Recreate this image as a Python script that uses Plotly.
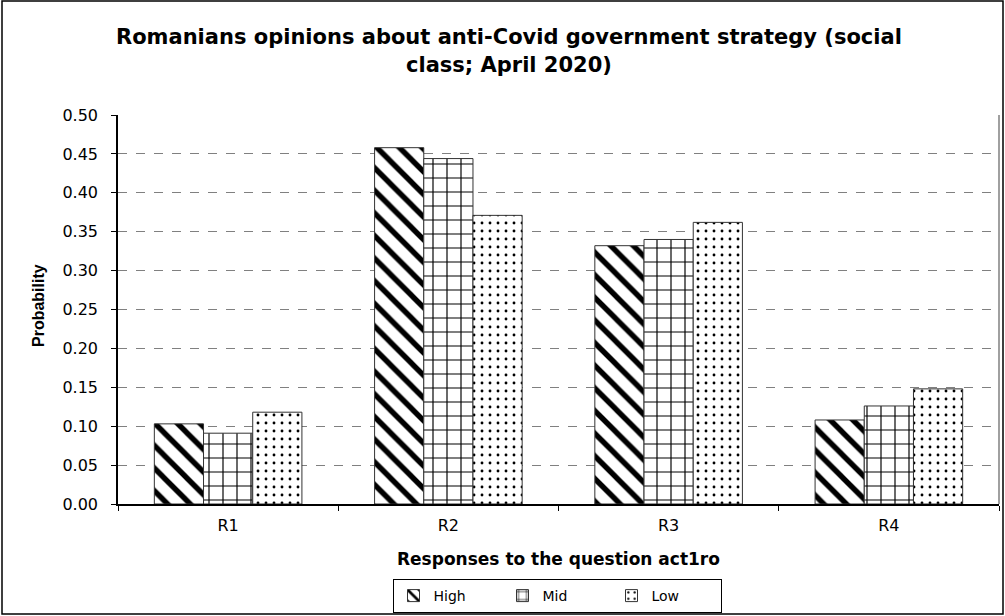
import plotly.graph_objects as go

# Response categories and predicted probabilities by social class
categories = ["R1", "R2", "R3", "R4"]
high = [0.103, 0.458, 0.332, 0.108]
mid = [0.091, 0.444, 0.340, 0.126]
low = [0.118, 0.371, 0.362, 0.148]

W, H = 1005, 616
ML, MR, MT, MB = 118, 6, 115, 112
PW = W - ML - MR
PH = H - MT - MB

WIDE = "DejaVu Sans, Verdana, sans-serif"


def px_x(x):
    """Pixel column -> paper x."""
    return (x - ML) / PW


def px_y(y):
    """Pixel row (from top) -> paper y."""
    return (H - MB - y) / PH


def bar_style(shape, size, solidity):
    return dict(
        color="white",
        line=dict(color="#333333", width=1),
        pattern=dict(shape=shape, size=size, solidity=solidity,
                     fgcolor="black", bgcolor="white", fgopacity=1),
    )


fig = go.Figure()
fig.add_trace(go.Bar(name="High", x=categories, y=high, marker=bar_style("\\", 16, 0.34)))
fig.add_trace(go.Bar(name="Mid", x=categories, y=mid, marker=bar_style("+", 14, 0.16)))
fig.add_trace(go.Bar(name="Low", x=categories, y=low, marker=bar_style(".", 8, 0.1)))

annotations = [
    dict(text="<b>Romanians opinions about anti-Covid government strategy (social</b>",
         x=px_x(509), y=px_y(37), font=dict(family=WIDE, size=21)),
    dict(text="<b>class; April 2020)</b>",
         x=px_x(509), y=px_y(65), font=dict(family=WIDE, size=21)),
    dict(text="<b>Responses to the question act1ro</b>",
         x=px_x(558), y=px_y(559), font=dict(family=WIDE, size=17)),
    dict(text="<b>Probability</b>", textangle=-90,
         x=px_x(38), y=px_y(306),
         font=dict(family="Liberation Sans, Arial, sans-serif", size=16)),
]
for a in annotations:
    a.update(xref="paper", yref="paper", xanchor="center", yanchor="middle",
             showarrow=False)

fig.update_layout(
    width=W, height=H,
    margin=dict(l=ML, r=MR, t=MT, b=MB, autoexpand=False),
    paper_bgcolor="white", plot_bgcolor="white",
    font=dict(family=WIDE, size=16, color="black"),
    barmode="group",
    bargap=0.33,
    bargroupgap=0,
    showlegend=True,
    legend=dict(
        orientation="h", xref="paper", x=px_x(557), xanchor="center",
        yref="container", y=1 - 579 / H, yanchor="top",
        bordercolor="black", borderwidth=1, bgcolor="white",
        font=dict(family=WIDE, size=14), entrywidth=64,
        traceorder="normal", tracegroupgap=0,
    ),
    xaxis=dict(
        automargin=False,
        showline=True, linecolor="black", linewidth=1.5,
        ticks="outside", tickson="boundaries", ticklen=5, tickcolor="black",
        ticklabelstandoff=6,
        showgrid=False,
    ),
    yaxis=dict(
        automargin=False,
        range=[0, 0.5], dtick=0.05, tickformat=".2f",
        showline=True, linecolor="black", linewidth=1.5,
        ticks="outside", ticklen=5, tickcolor="black",
        ticklabelstandoff=10,
        showgrid=True, gridcolor="#808080", gridwidth=1, griddash="dash",
        zeroline=False,
    ),
    annotations=annotations,
    shapes=[
        dict(type="line", xref="paper", yref="paper", x0=1, x1=1, y0=0, y1=1,
             line=dict(color="#808080", width=1.5)),
        dict(type="rect", xref="paper", yref="paper",
             x0=px_x(2), x1=px_x(W - 2), y0=px_y(H - 2), y1=px_y(1),
             line=dict(color="black", width=1.5), layer="below"),
    ],
)

fig.write_html("out.html")
